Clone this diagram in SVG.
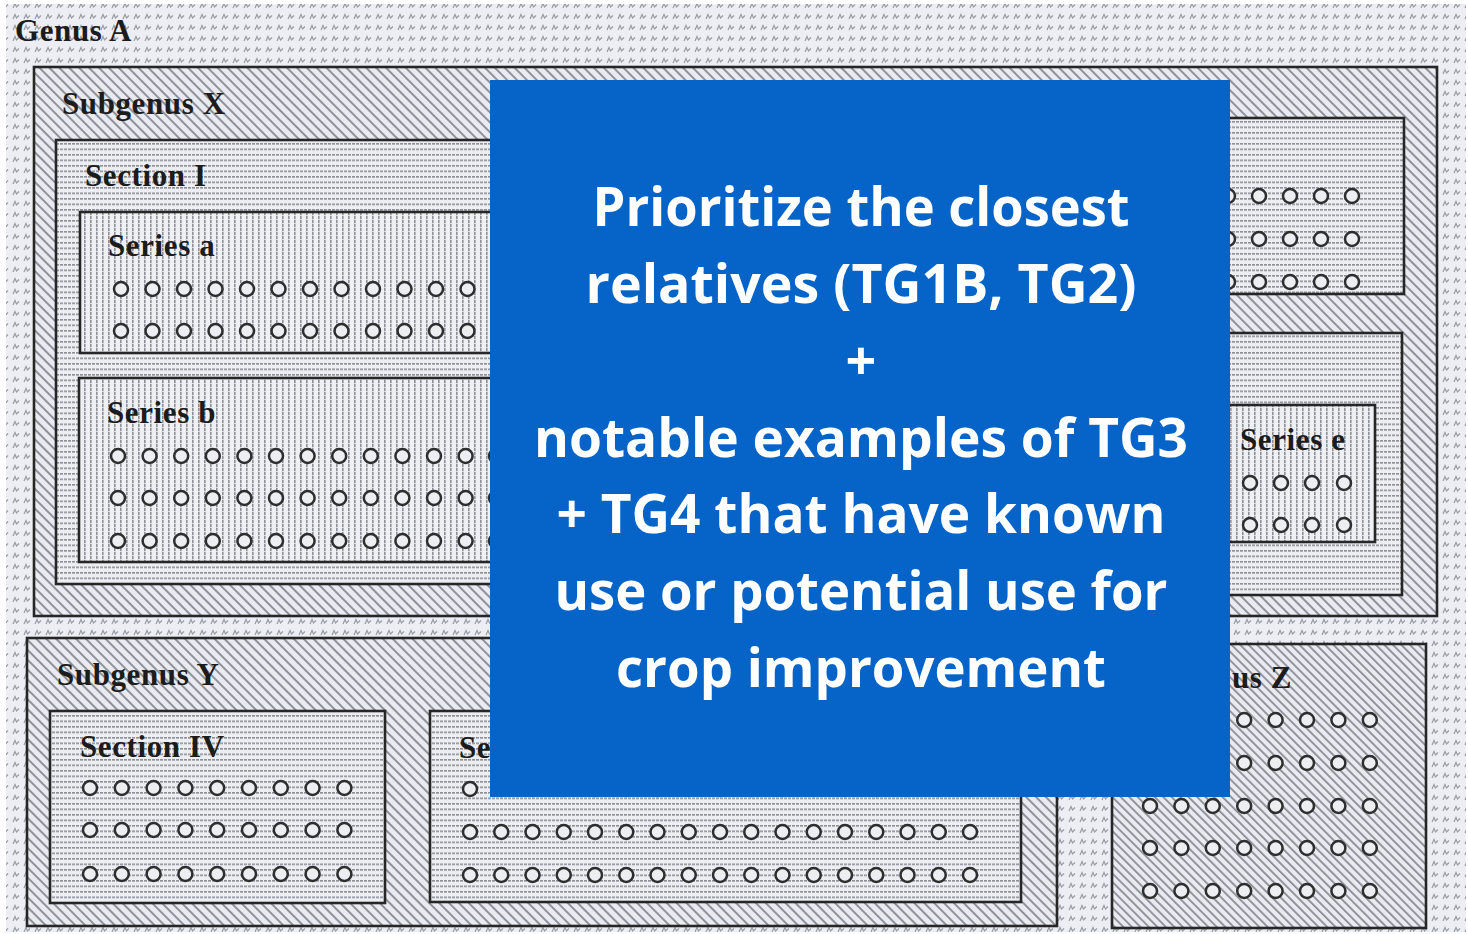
<svg xmlns="http://www.w3.org/2000/svg" xmlns:xlink="http://www.w3.org/1999/xlink" width="1468" height="934" viewBox="0 0 1468 934">
<style>
.box{stroke:#262626;stroke-width:2.6;}
.lbl{font-family:"Liberation Serif","Times New Roman",serif;font-weight:bold;font-size:31px;letter-spacing:0.6px;fill:#1c1c1c;}
.o{fill:#eceef2;stroke:#2e2e2e;stroke-width:2.5;}
.bt{font-family:"Open Sans","Noto Sans",sans-serif;font-weight:bold;font-size:54px;fill:#ffffff;text-anchor:middle;}
</style>
<defs>
<pattern id="pg" width="11" height="11" patternUnits="userSpaceOnUse">
<rect width="11" height="11" fill="#eceef3"/>
<path d="M2,8 L4,3.5 L5.5,7 L8,4.5" stroke="#9a9ca5" stroke-width="1.2" fill="none"/>
</pattern>
<pattern id="ph" width="7" height="7" patternUnits="userSpaceOnUse" patternTransform="rotate(-45)">
<rect width="7" height="7" fill="#e9ebf0"/>
<rect width="2" height="7" fill="#8f929a"/>
</pattern>
<pattern id="pz" width="6" height="6" patternUnits="userSpaceOnUse" patternTransform="rotate(-45)">
<rect width="6" height="6" fill="#e9ebf0"/>
<rect width="1.8" height="6" fill="#8a8d95"/>
</pattern>
<pattern id="ps" width="4" height="5.5" patternUnits="userSpaceOnUse">
<rect width="4" height="5.5" fill="#eceef2"/>
<rect width="3" height="1.6" fill="#8d9098"/>
</pattern>
<pattern id="pv" width="6" height="4" patternUnits="userSpaceOnUse">
<rect width="6" height="4" fill="#eef0f3"/>
<rect width="1.6" height="3.2" fill="#8d9098"/>
</pattern>
<circle id="c" r="7" class="o"/>
</defs>
<rect width="1468" height="934" fill="#ffffff"/>
<g id="genus-a">
<rect x="6" y="4" width="1460" height="928" fill="url(#pg)"/>
<text class="lbl" x="15" y="41">Genus A</text>
</g>
<g id="subgenus-x">
<rect class="box" x="34" y="67" width="1403" height="549" fill="url(#ph)"/>
<text class="lbl" x="62" y="114">Subgenus X</text>
</g>
<g id="section-i">
<rect class="box" x="56" y="140" width="960" height="444" fill="url(#ps)"/>
<text class="lbl" x="85" y="186">Section I</text>
</g>
<g id="series-a">
<rect class="box" x="80" y="212" width="920" height="141" fill="url(#pv)"/>
<text class="lbl" x="108" y="256">Series a</text>
<use href="#c" x="121" y="289"/><use href="#c" x="152.5" y="289"/><use href="#c" x="184" y="289"/><use href="#c" x="215.5" y="289"/><use href="#c" x="247" y="289"/><use href="#c" x="278.5" y="289"/><use href="#c" x="310" y="289"/><use href="#c" x="341.5" y="289"/><use href="#c" x="373" y="289"/><use href="#c" x="404.5" y="289"/><use href="#c" x="436" y="289"/><use href="#c" x="467.5" y="289"/>
<use href="#c" x="121" y="331"/><use href="#c" x="152.5" y="331"/><use href="#c" x="184" y="331"/><use href="#c" x="215.5" y="331"/><use href="#c" x="247" y="331"/><use href="#c" x="278.5" y="331"/><use href="#c" x="310" y="331"/><use href="#c" x="341.5" y="331"/><use href="#c" x="373" y="331"/><use href="#c" x="404.5" y="331"/><use href="#c" x="436" y="331"/><use href="#c" x="467.5" y="331"/>
</g>
<g id="series-b">
<rect class="box" x="79" y="378" width="920" height="184" fill="url(#pv)"/>
<text class="lbl" x="107" y="423">Series b</text>
<use href="#c" x="118" y="456"/><use href="#c" x="149.6" y="456"/><use href="#c" x="181.2" y="456"/><use href="#c" x="212.8" y="456"/><use href="#c" x="244.4" y="456"/><use href="#c" x="276" y="456"/><use href="#c" x="307.6" y="456"/><use href="#c" x="339.2" y="456"/><use href="#c" x="370.8" y="456"/><use href="#c" x="402.4" y="456"/><use href="#c" x="434" y="456"/><use href="#c" x="465.6" y="456"/><use href="#c" x="496" y="456"/>
<use href="#c" x="118" y="498"/><use href="#c" x="149.6" y="498"/><use href="#c" x="181.2" y="498"/><use href="#c" x="212.8" y="498"/><use href="#c" x="244.4" y="498"/><use href="#c" x="276" y="498"/><use href="#c" x="307.6" y="498"/><use href="#c" x="339.2" y="498"/><use href="#c" x="370.8" y="498"/><use href="#c" x="402.4" y="498"/><use href="#c" x="434" y="498"/><use href="#c" x="465.6" y="498"/><use href="#c" x="496" y="498"/>
<use href="#c" x="118" y="541"/><use href="#c" x="149.6" y="541"/><use href="#c" x="181.2" y="541"/><use href="#c" x="212.8" y="541"/><use href="#c" x="244.4" y="541"/><use href="#c" x="276" y="541"/><use href="#c" x="307.6" y="541"/><use href="#c" x="339.2" y="541"/><use href="#c" x="370.8" y="541"/><use href="#c" x="402.4" y="541"/><use href="#c" x="434" y="541"/><use href="#c" x="465.6" y="541"/><use href="#c" x="496" y="541"/>
</g>
<g id="section-ii">
<rect class="box" x="1100" y="118" width="304" height="176" fill="url(#ps)"/>
<use href="#c" x="1228" y="196"/><use href="#c" x="1259" y="196"/><use href="#c" x="1290" y="196"/><use href="#c" x="1321" y="196"/><use href="#c" x="1352" y="196"/>
<use href="#c" x="1228" y="239"/><use href="#c" x="1259" y="239"/><use href="#c" x="1290" y="239"/><use href="#c" x="1321" y="239"/><use href="#c" x="1352" y="239"/>
<use href="#c" x="1228" y="282"/><use href="#c" x="1259" y="282"/><use href="#c" x="1290" y="282"/><use href="#c" x="1321" y="282"/><use href="#c" x="1352" y="282"/>
</g>
<g id="section-iii">
<rect class="box" x="1100" y="333" width="302" height="262" fill="url(#ps)"/>
</g>
<g id="series-e">
<rect class="box" x="1180" y="405" width="195" height="137" fill="url(#pv)"/>
<text class="lbl" x="1240" y="450">Series e</text>
<use href="#c" x="1250" y="483"/><use href="#c" x="1281" y="483"/><use href="#c" x="1312" y="483"/><use href="#c" x="1344" y="483"/>
<use href="#c" x="1250" y="525"/><use href="#c" x="1281" y="525"/><use href="#c" x="1312" y="525"/><use href="#c" x="1344" y="525"/>
</g>
<g id="subgenus-y">
<rect class="box" x="27" y="638" width="1030" height="288" fill="url(#ph)"/>
<text class="lbl" x="57" y="685">Subgenus Y</text>
</g>
<g id="section-iv">
<rect class="box" x="50" y="711" width="335" height="192" fill="url(#ps)"/>
<text class="lbl" x="80" y="757">Section IV</text>
<use href="#c" x="90" y="788"/><use href="#c" x="121.8" y="788"/><use href="#c" x="153.6" y="788"/><use href="#c" x="185.4" y="788"/><use href="#c" x="217.2" y="788"/><use href="#c" x="249" y="788"/><use href="#c" x="280.8" y="788"/><use href="#c" x="312.6" y="788"/><use href="#c" x="344.4" y="788"/>
<use href="#c" x="90" y="830"/><use href="#c" x="121.8" y="830"/><use href="#c" x="153.6" y="830"/><use href="#c" x="185.4" y="830"/><use href="#c" x="217.2" y="830"/><use href="#c" x="249" y="830"/><use href="#c" x="280.8" y="830"/><use href="#c" x="312.6" y="830"/><use href="#c" x="344.4" y="830"/>
<use href="#c" x="90" y="874"/><use href="#c" x="121.8" y="874"/><use href="#c" x="153.6" y="874"/><use href="#c" x="185.4" y="874"/><use href="#c" x="217.2" y="874"/><use href="#c" x="249" y="874"/><use href="#c" x="280.8" y="874"/><use href="#c" x="312.6" y="874"/><use href="#c" x="344.4" y="874"/>
</g>
<g id="section-v">
<rect class="box" x="430" y="711" width="591" height="191" fill="url(#ps)"/>
<text class="lbl" x="459" y="758">Se</text>
<use href="#c" x="470" y="789"/><use href="#c" x="501.25" y="789"/><use href="#c" x="532.5" y="789"/><use href="#c" x="563.75" y="789"/><use href="#c" x="595" y="789"/><use href="#c" x="626.25" y="789"/><use href="#c" x="657.5" y="789"/><use href="#c" x="688.75" y="789"/><use href="#c" x="720" y="789"/><use href="#c" x="751.25" y="789"/><use href="#c" x="782.5" y="789"/><use href="#c" x="813.75" y="789"/><use href="#c" x="845" y="789"/><use href="#c" x="876.25" y="789"/><use href="#c" x="907.5" y="789"/><use href="#c" x="938.75" y="789"/><use href="#c" x="970" y="789"/>
<use href="#c" x="470" y="832"/><use href="#c" x="501.25" y="832"/><use href="#c" x="532.5" y="832"/><use href="#c" x="563.75" y="832"/><use href="#c" x="595" y="832"/><use href="#c" x="626.25" y="832"/><use href="#c" x="657.5" y="832"/><use href="#c" x="688.75" y="832"/><use href="#c" x="720" y="832"/><use href="#c" x="751.25" y="832"/><use href="#c" x="782.5" y="832"/><use href="#c" x="813.75" y="832"/><use href="#c" x="845" y="832"/><use href="#c" x="876.25" y="832"/><use href="#c" x="907.5" y="832"/><use href="#c" x="938.75" y="832"/><use href="#c" x="970" y="832"/>
<use href="#c" x="470" y="875"/><use href="#c" x="501.25" y="875"/><use href="#c" x="532.5" y="875"/><use href="#c" x="563.75" y="875"/><use href="#c" x="595" y="875"/><use href="#c" x="626.25" y="875"/><use href="#c" x="657.5" y="875"/><use href="#c" x="688.75" y="875"/><use href="#c" x="720" y="875"/><use href="#c" x="751.25" y="875"/><use href="#c" x="782.5" y="875"/><use href="#c" x="813.75" y="875"/><use href="#c" x="845" y="875"/><use href="#c" x="876.25" y="875"/><use href="#c" x="907.5" y="875"/><use href="#c" x="938.75" y="875"/><use href="#c" x="970" y="875"/>
</g>
<g id="subgenus-z">
<rect class="box" x="1112" y="644" width="314" height="284" fill="url(#pz)"/>
<text class="lbl" x="1232" y="688">us Z</text>
<use href="#c" x="1244.2" y="720"/><use href="#c" x="1275.6" y="720"/><use href="#c" x="1307" y="720"/><use href="#c" x="1338.4" y="720"/><use href="#c" x="1369.8" y="720"/>
<use href="#c" x="1244.2" y="763"/><use href="#c" x="1275.6" y="763"/><use href="#c" x="1307" y="763"/><use href="#c" x="1338.4" y="763"/><use href="#c" x="1369.8" y="763"/>
<use href="#c" x="1150" y="806"/><use href="#c" x="1181.4" y="806"/><use href="#c" x="1212.8" y="806"/><use href="#c" x="1244.2" y="806"/><use href="#c" x="1275.6" y="806"/><use href="#c" x="1307" y="806"/><use href="#c" x="1338.4" y="806"/><use href="#c" x="1369.8" y="806"/>
<use href="#c" x="1150" y="848"/><use href="#c" x="1181.4" y="848"/><use href="#c" x="1212.8" y="848"/><use href="#c" x="1244.2" y="848"/><use href="#c" x="1275.6" y="848"/><use href="#c" x="1307" y="848"/><use href="#c" x="1338.4" y="848"/><use href="#c" x="1369.8" y="848"/>
<use href="#c" x="1150" y="891"/><use href="#c" x="1181.4" y="891"/><use href="#c" x="1212.8" y="891"/><use href="#c" x="1244.2" y="891"/><use href="#c" x="1275.6" y="891"/><use href="#c" x="1307" y="891"/><use href="#c" x="1338.4" y="891"/><use href="#c" x="1369.8" y="891"/>
</g>
<g id="connectors"></g>
<g id="callout">
<rect x="490" y="80" width="740" height="717" fill="#0664C9"/>
<text class="bt" x="861" y="226" textLength="537" lengthAdjust="spacingAndGlyphs">Prioritize the closest</text>
<text class="bt" x="861" y="303" textLength="551" lengthAdjust="spacingAndGlyphs">relatives (TG1B, TG2)</text>
<text class="bt" x="861" y="380">+</text>
<text class="bt" x="861" y="457" textLength="654" lengthAdjust="spacingAndGlyphs">notable examples of TG3</text>
<text class="bt" x="861" y="533" textLength="609" lengthAdjust="spacingAndGlyphs">+ TG4 that have known</text>
<text class="bt" x="861" y="610" textLength="613" lengthAdjust="spacingAndGlyphs">use or potential use for</text>
<text class="bt" x="861" y="687" textLength="490" lengthAdjust="spacingAndGlyphs">crop improvement</text>
</g>
</svg>
